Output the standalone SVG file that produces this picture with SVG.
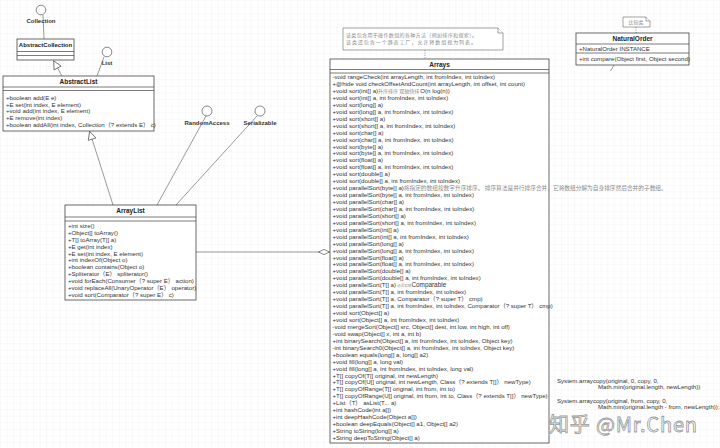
<svg xmlns="http://www.w3.org/2000/svg" width="720" height="448" viewBox="0 0 720 448">
<style>
.box{fill:#fff;stroke:#444;stroke-width:0.8}
.sep{stroke:#444;stroke-width:0.7;fill:none}
.m{font-family:"Liberation Sans","Noto Sans CJK SC",sans-serif;font-size:6.1px;fill:#333}
.t{font-family:"Liberation Sans","Noto Sans CJK SC",sans-serif;font-size:6.5px;font-weight:bold;fill:#222;text-anchor:middle}
.lbl{font-family:"Liberation Sans",sans-serif;font-size:6px;font-weight:bold;fill:#333;text-anchor:middle}
.zh{font-family:"Noto Sans CJK SC",sans-serif;fill:#8a8a8a}
.ifc{fill:#fff;stroke:#555;stroke-width:0.7}
.ln{fill:none;stroke:#555;stroke-width:0.6}
.dash{fill:none;stroke:#666;stroke-width:0.6;stroke-dasharray:1.2 1.2}
.note{fill:#fff;stroke:#666;stroke-width:0.6}
</style>
<defs>
<pattern id="grid" width="6.6" height="6.6" patternUnits="userSpaceOnUse">
<path d="M6.6 0H0V6.6" fill="none" stroke="#e8e8e8" stroke-width="0.5"/>
</pattern>
<marker id="tri" viewBox="0 0 10 10" refX="10" refY="5" markerWidth="10" markerHeight="9" orient="auto" markerUnits="userSpaceOnUse">
<path d="M0.5,0.5 L9.5,5 L0.5,9.5 Z" fill="#fff" stroke="#555" stroke-width="0.8"/>
</marker>
<marker id="dia" viewBox="0 0 12 6" refX="12" refY="3" markerWidth="12" markerHeight="6" orient="auto" markerUnits="userSpaceOnUse">
<path d="M0.5,3 L6,0.4 L11.5,3 L6,5.6 Z" fill="#fff" stroke="#555" stroke-width="0.7"/>
</marker>
</defs>
<rect width="720" height="448" fill="#fff"/>
<rect width="720" height="448" fill="url(#grid)"/>

<g id="connectors">
<line class="ln" x1="43" y1="15" x2="44" y2="39"/>
<line class="ln" x1="104" y1="57" x2="97" y2="76"/>
<line class="ln" x1="206" y1="116" x2="157" y2="205"/>
<line class="ln" x1="257" y1="116" x2="176" y2="205"/>
<line class="ln" x1="62" y1="76" x2="53.5" y2="60.5" marker-end="url(#tri)"/>
<line class="ln" x1="113" y1="205" x2="89.5" y2="131" marker-end="url(#tri)"/>
<line class="ln" x1="196" y1="252" x2="330" y2="252" marker-end="url(#dia)"/>
<line class="dash" x1="425" y1="50" x2="425" y2="59"/>
<line class="dash" x1="636" y1="27" x2="636" y2="33"/>
<line class="ln" x1="614" y1="65" x2="610.5" y2="71"/>
</g>

<g id="Collection">
<circle class="ifc" cx="41" cy="10" r="4.8"/>
<text class="lbl" x="41" y="23.2">Collection</text>
</g>

<g id="List">
<circle class="ifc" cx="107" cy="52" r="4.8"/>
<text class="lbl" x="107" y="65.2">List</text>
</g>

<g id="RandomAccess">
<circle class="ifc" cx="207" cy="111" r="5"/>
<text class="lbl" x="207" y="125.2">RandomAccess</text>
</g>

<g id="Serializable">
<circle class="ifc" cx="260" cy="111" r="5"/>
<text class="lbl" x="260" y="125.2">Serializable</text>
</g>

<g id="AbstractCollection">
<rect class="box" x="17" y="39" width="57" height="21"/>
<path class="sep" d="M17 51.5H74M17 55.5H74"/>
<text class="t" x="45.5" y="47.3" style="font-size:6px">AbstractCollection</text>
</g>

<g id="AbstractList">
<rect class="box" x="3" y="76" width="151" height="55"/>
<path class="sep" d="M3 87H154M3 90.5H154"/>
<text class="t" x="78.5" y="84.3">AbstractList</text>
<text class="m" x="6"><tspan x="6" y="99.8">+boolean add(E e)</tspan><tspan x="6" dy="6.7">+E set(int index, E element)</tspan><tspan x="6" dy="6.7">+void add(int index, E element)</tspan><tspan x="6" dy="6.7">+E remove(int index)</tspan><tspan x="6" dy="6.7">+boolean addAll(int index, Collection（? extends E） c)</tspan></text>
</g>

<g id="ArrayList">
<rect class="box" x="65" y="205" width="131" height="95"/>
<path class="sep" d="M65 217H196M65 221H196"/>
<text class="t" x="130.5" y="213.3">ArrayList</text>
<text class="m"><tspan x="68" y="227.8">+int size()</tspan><tspan x="68" dy="6.93">+Object[] toArray()</tspan><tspan x="68" dy="6.93">+T[] toArray(T[] a)</tspan><tspan x="68" dy="6.93">+E get(int index)</tspan><tspan x="68" dy="6.93">+E set(int index, E element)</tspan><tspan x="68" dy="6.93">+int indexOf(Object o)</tspan><tspan x="68" dy="6.93">+boolean contains(Object o)</tspan><tspan x="68" dy="6.93">+Spliterator（E） spliterator()</tspan><tspan x="68" dy="6.93">+void forEach(Consumer（? super E） action)</tspan><tspan x="68" dy="6.93">+void replaceAll(UnaryOperator（E） operator)</tspan><tspan x="68" dy="6.93">+void sort(Comparator（? super E） c)</tspan></text>
</g>

<g id="ArraysNote">
<path class="note" d="M343 28H498L503 33V50H343Z"/>
<path class="note" d="M498 28V33H503"/>
<text class="zh" x="346" y="37.4" style="font-size:5px" textLength="131">该类包含用于操作数组的各种方法（例如排序和搜索）。</text>
<text class="zh" x="346" y="43.8" style="font-size:5px" textLength="130">该类还包含一个静态工厂，允许将数组视为列表。</text>
</g>

<g id="Arrays">
<rect class="box" x="330" y="59" width="219" height="384"/>
<path class="sep" d="M330 69.5H549M330 73H549"/>
<text class="t" x="439.5" y="66.6">Arrays</text>
<text class="m"><tspan x="332.5" y="79.1">-void rangeCheck(int arrayLength, int fromIndex, int toIndex)</tspan><tspan x="332.5" dy="6.94">+@hide void checkOffsetAndCount(int arrayLength, int offset, int count)</tspan><tspan x="332.5" dy="6.94">+void sort(int[] a)</tspan><tspan class="zh" style="font-size:5px">升序排序 双轴快排 </tspan><tspan>O(n log(n))</tspan><tspan x="332.5" dy="6.94">+void sort(int[] a, int fromIndex, int toIndex)</tspan><tspan x="332.5" dy="6.94">+void sort(long[] a)</tspan><tspan x="332.5" dy="6.94">+void sort(long[] a, int fromIndex, int toIndex)</tspan><tspan x="332.5" dy="6.94">+void sort(short[] a)</tspan><tspan x="332.5" dy="6.94">+void sort(short[] a, int fromIndex, int toIndex)</tspan><tspan x="332.5" dy="6.94">+void sort(char[] a)</tspan><tspan x="332.5" dy="6.94">+void sort(char[] a, int fromIndex, int toIndex)</tspan><tspan x="332.5" dy="6.94">+void sort(byte[] a)</tspan><tspan x="332.5" dy="6.94">+void sort(byte[] a, int fromIndex, int toIndex)</tspan><tspan x="332.5" dy="6.94">+void sort(float[] a)</tspan><tspan x="332.5" dy="6.94">+void sort(float[] a, int fromIndex, int toIndex)</tspan><tspan x="332.5" dy="6.94">+void sort(double[] a)</tspan><tspan x="332.5" dy="6.94">+void sort(double[] a, int fromIndex, int toIndex)</tspan><tspan x="332.5" dy="6.94">+void parallelSort(byte[] a)</tspan><tspan class="zh" style="font-size:5.7px">将指定的数组按数字升序排序。 排序算法是并行排序合并，它将数组分解为自身排序然后合并的子数组。</tspan><tspan x="332.5" dy="6.94">+void parallelSort(byte[] a, int fromIndex, int toIndex)</tspan><tspan x="332.5" dy="6.94">+void parallelSort(char[] a)</tspan><tspan x="332.5" dy="6.94">+void parallelSort(char[] a, int fromIndex, int toIndex)</tspan><tspan x="332.5" dy="6.94">+void parallelSort(short[] a)</tspan><tspan x="332.5" dy="6.94">+void parallelSort(short[] a, int fromIndex, int toIndex)</tspan><tspan x="332.5" dy="6.94">+void parallelSort(int[] a)</tspan><tspan x="332.5" dy="6.94">+void parallelSort(int[] a, int fromIndex, int toIndex)</tspan><tspan x="332.5" dy="6.94">+void parallelSort(long[] a)</tspan><tspan x="332.5" dy="6.94">+void parallelSort(long[] a, int fromIndex, int toIndex)</tspan><tspan x="332.5" dy="6.94">+void parallelSort(float[] a)</tspan><tspan x="332.5" dy="6.94">+void parallelSort(float[] a, int fromIndex, int toIndex)</tspan><tspan x="332.5" dy="6.94">+void parallelSort(double[] a)</tspan><tspan x="332.5" dy="6.94">+void parallelSort(double[] a, int fromIndex, int toIndex)</tspan><tspan x="332.5" dy="6.94">+void parallelSort(T[] a)</tspan><tspan class="zh" style="font-size:3.6px" dx="1">必须实现</tspan><tspan dy="-0.8" style="font-size:6.4px">Comparable</tspan><tspan x="332.5" dy="7.74">+void parallelSort(T[] a, int fromIndex, int toIndex)</tspan><tspan x="332.5" dy="6.94">+void parallelSort(T[] a, Comparator（? super T） cmp)</tspan><tspan x="332.5" dy="6.94">+void parallelSort(T[] a, int fromIndex, int toIndex, Comparator（? super T） cmp)</tspan><tspan x="332.5" dy="6.94">+void sort(Object[] a)</tspan><tspan x="332.5" dy="6.94">+void sort(Object[] a, int fromIndex, int toIndex)</tspan><tspan x="332.5" dy="6.94">-void mergeSort(Object[] src, Object[] dest, int low, int high, int off)</tspan><tspan x="332.5" dy="6.94">-void swap(Object[] x, int a, int b)</tspan><tspan x="332.5" dy="6.94">+int binarySearch(Object[] a, int fromIndex, int toIndex, Object key)</tspan><tspan x="332.5" dy="6.94">-int binarySearch0(Object[] a, int fromIndex, int toIndex, Object key)</tspan><tspan x="332.5" dy="6.94">+boolean equals(long[] a, long[] a2)</tspan><tspan x="332.5" dy="6.94">+void fill(long[] a, long val)</tspan><tspan x="332.5" dy="6.94">+void fill(long[] a, int fromIndex, int toIndex, long val)</tspan><tspan x="332.5" dy="6.94">+T[] copyOf(T[] original, int newLength)</tspan><tspan x="332.5" dy="6.94">+T[] copyOf(U[] original, int newLength, Class（? extends T[]） newType)</tspan><tspan x="332.5" dy="6.94">+T[] copyOfRange(T[] original, int from, int to)</tspan><tspan x="332.5" dy="6.94">+T[] copyOfRange(U[] original, int from, int to, Class（? extends T[]） newType)</tspan><tspan x="332.5" dy="6.94">+List（T） asList(T... a)</tspan><tspan x="332.5" dy="6.94">+int hashCode(int a[])</tspan><tspan x="332.5" dy="6.94">+int deepHashCode(Object a[])</tspan><tspan x="332.5" dy="6.94">+boolean deepEquals(Object[] a1, Object[] a2)</tspan><tspan x="332.5" dy="6.94">+String toString(long[] a)</tspan><tspan x="332.5" dy="6.94">+String deepToString(Object[] a)</tspan></text>
</g>

<g id="NaturalOrderNote">
<path class="note" d="M623 17H646L650 21V27H623Z"/>
<path class="note" d="M646 17V21H650"/>
<text class="zh" x="636" y="24" style="font-size:5px" text-anchor="middle">比较类</text>
</g>

<g id="NaturalOrder">
<rect class="box" x="576" y="33" width="113" height="32"/>
<path class="sep" d="M576 44H689M576 53H689"/>
<text class="t" x="632.5" y="41">NaturalOrder</text>
<text class="m" x="579" y="50.6">+NaturalOrder INSTANCE</text>
<text class="m" x="579" y="61.1">+int compare(Object first, Object second)</text>
</g>

<g id="copyNotes">
<text class="m" x="557" y="383.2">System.arraycopy(original, 0, copy, 0,</text>
<text class="m" x="598" y="389.2">Math.min(original.length, newLength))</text>
<text class="m" x="557" y="403.2">System.arraycopy(original, from, copy, 0,</text>
<text class="m" x="598" y="409.2">Math.min(original.length - from, newLength));</text>
</g>

<g id="watermark">
<text x="549" y="432" textLength="148" style="font-family:'Noto Sans CJK SC','Liberation Sans',sans-serif;font-size:20px;fill:#fff;fill-opacity:0.7;stroke:#9a9a9a;stroke-width:0.8">知乎 @Mr.Chen</text>
</g>
</svg>
